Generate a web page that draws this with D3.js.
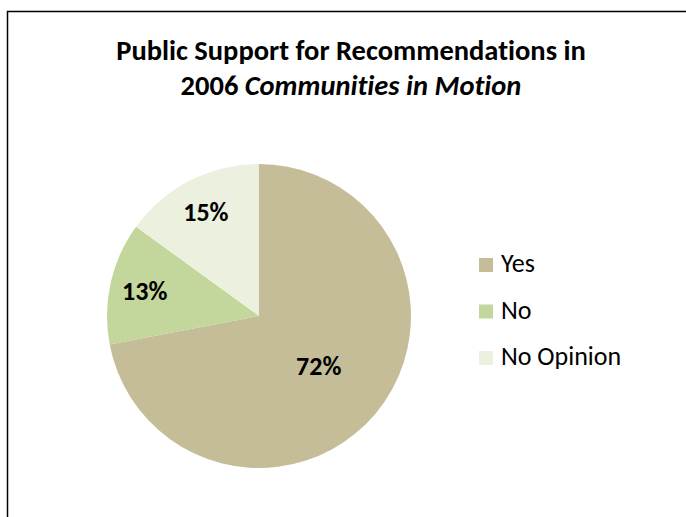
<!DOCTYPE html>
<html>
<head>
<meta charset="utf-8">
<script src="https://cdn.jsdelivr.net/npm/d3@7"></script>
<style>
  html, body { margin: 0; padding: 0; background: #fff; }
  svg { display: block; }
  text { font-family: Calibri, Carlito, Lato, "Open Sans", sans-serif; font-variant-ligatures: none; }
</style>
</head>
<body>
<svg id="chart"></svg>
<script>
// chart data
const categories = ["Yes", "No", "No Opinion"];
const values = [72, 13, 15];
const colors = ["#C4BD97", "#C3D69B", "#EBF1DE"];

const width = 686, height = 517;
const cx = 259, cy = 316, radius = 152;

const svg = d3.select("#chart")
  .attr("width", width)
  .attr("height", height);

// chart area border (only top/left visible in frame)
svg.append("rect")
  .attr("x", 7.5)
  .attr("y", 11.5)
  .attr("width", width + 20)
  .attr("height", height + 20)
  .attr("fill", "#fff")
  .attr("stroke", "#000")
  .attr("stroke-width", 1.5);

// title
const title = svg.append("text")
  .attr("text-anchor", "middle")
  .attr("font-weight", "bold")
  .attr("font-size", "28.5px")
  .attr("fill", "#000");
title.append("tspan")
  .attr("x", 351)
  .attr("y", 60)
  .text("Public Support for Recommendations in");
title.append("tspan")
  .attr("x", 351)
  .attr("dy", 35)
  .text("2006 ");
title.append("tspan")
  .attr("font-style", "italic")
  .text("Communities in Motion");

const pie = d3.pie().sort(null).value(d => d);
const arcs = pie(values);
const arc = d3.arc().innerRadius(0).outerRadius(radius);

const g = svg.append("g")
  .attr("transform", `translate(${cx},${cy})`);

g.selectAll("path")
  .data(arcs)
  .enter().append("path")
  .attr("d", arc)
  .attr("fill", (d, i) => colors[i]);

// big slice label sits nearer the middle, small ones near the rim
const labelArc = d => {
  const r = (d.endAngle - d.startAngle > Math.PI ? 0.51 : 0.77) * radius;
  return d3.arc().innerRadius(r).outerRadius(r).centroid(d);
};

g.selectAll(".lbl")
  .data(arcs)
  .enter().append("text")
  .attr("class", "lbl")
  .attr("transform", d => `translate(${labelArc(d)})`)
  .attr("text-anchor", "middle")
  .attr("dy", "0.35em")
  .attr("font-weight", "bold")
  .attr("font-size", "26px")
  .attr("fill", "#000")
  .text(d => d.data + "%");

// legend
const legend = svg.append("g")
  .attr("transform", "translate(479,258)");

const item = legend.selectAll(".item")
  .data(categories)
  .enter().append("g")
  .attr("class", "item")
  .attr("transform", (d, i) => `translate(0,${i * 46.5})`);

item.append("rect")
  .attr("width", 14)
  .attr("height", 14)
  .attr("fill", (d, i) => colors[i]);

item.append("text")
  .attr("x", 22)
  .attr("y", 14)
  .attr("font-size", "26px")
  .attr("fill", "#000")
  .text(d => d);
</script>
</body>
</html>
